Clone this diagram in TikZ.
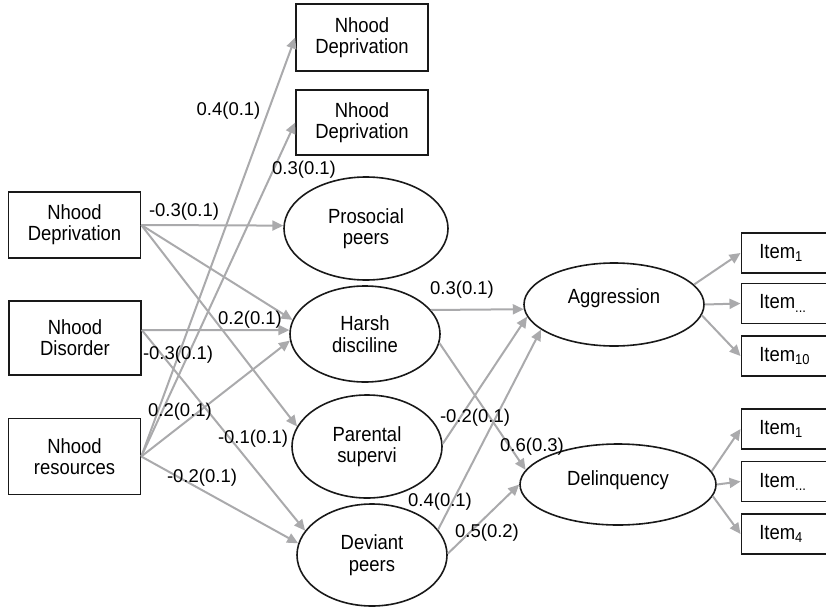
\documentclass[tikz,border=0pt]{standalone}
\usepackage{fontspec}
\setmainfont{Liberation Sans}
\newfontfamily\nodefont{Liberation Sans}[FakeStretch=0.9]
\usetikzlibrary{shapes.geometric,arrows.meta}
\definecolor{edgegray}{RGB}{170,170,172}
\definecolor{linedark}{RGB}{25,25,25}
\tikzset{
  box/.style={draw=linedark, line width=1.6pt, rectangle, inner sep=0pt, align=center,
    font=\nodefont\fontsize{20.5}{21}\selectfont},
  ell/.style={draw=linedark, line width=1.6pt, ellipse, inner sep=0pt, align=center,
    font=\nodefont\fontsize{20.5}{21.5}\selectfont},
  itembox/.style={draw=linedark, line width=1.6pt, rectangle, anchor=west, inner xsep=18pt,
    text width=80pt, align=left, minimum height=40pt, inner ysep=0pt,
    font=\nodefont\fontsize{20.5}{21}\selectfont},
  path/.style={draw=edgegray, line width=2pt, -{Triangle[length=11pt,width=10pt]}},
  coef/.style={font=\fontsize{18.5}{18.5}\selectfont, inner sep=0pt}
}
\begin{document}
\begin{tikzpicture}[x=1pt,y=-1pt]
\useasboundingbox (0,0) rectangle (826,607);
% observed boxes
\node[box, minimum width=132pt, minimum height=67pt] (t1) at (362,37.5) {Nhood\\Deprivation};
\node[box, minimum width=132pt, minimum height=65pt] (t2) at (362,122.5) {Nhood\\Deprivation};
\node[box, minimum width=132pt, minimum height=66pt] (dep) at (74.5,225) {Nhood\\Deprivation};
\node[box, minimum width=132pt, minimum height=74pt] (dis) at (75,338) {Nhood\\Disorder};
\node[box, minimum width=132pt, minimum height=76pt] (res) at (74.5,456.5) {Nhood\\resources};
% latent ellipses
\node[ell, minimum width=164pt, minimum height=103pt] (pro) at (366,228.5) {Prosocial\\peers};
\node[ell, minimum width=150pt, minimum height=96pt] (har) at (365,334) {Harsh\\disciline};
\node[ell, minimum width=150pt, minimum height=103pt] (par) at (367,446.5) {Parental\\supervi};
\node[ell, minimum width=150pt, minimum height=102pt] (dev) at (372,555) {Deviant\\peers};
\node[ell, minimum width=180pt, minimum height=83pt, text depth=16pt] (agg) at (614,304.5) {Aggression};
\node[ell, minimum width=196pt, minimum height=81pt, text depth=12pt] (del) at (618,484.5) {Delinquency};
% item boxes
\node[itembox] (a1) at (740.5,253) {Item\textsubscript{1}};
\node[itembox] (a2) at (740.5,303.5) {Item\textsubscript{...}};
\node[itembox] (a3) at (740.5,356) {Item\textsubscript{10}};
\node[itembox] (d1) at (740.5,429) {Item\textsubscript{1}};
\node[itembox] (d2) at (740.5,481.5) {Item\textsubscript{...}};
\node[itembox] (d3) at (740.5,534) {Item\textsubscript{4}};
% paths
\draw[path] (res.east) -- (t1.west);
\draw[path] (res.east) -- (t2.west);
\draw[path] (dep.east) -- (pro.178);
\draw[path] (dep.east) -- (har.169);
\draw[path] (dep.east) -- (par.164.5);
\draw[path] ([yshift=8pt]dis.east) -- (har.177);
\draw[path] ([yshift=8pt]dis.east) -- (dev.160);
\draw[path] (res.east) -- (har.185);
\draw[path] (res.east) -- (dev.171);
\draw[path] (har.20) -- (agg.183);
\draw[path] (har.353) -- (del.171.5);
\draw[path] (par.2) -- (agg.188.5);
\draw[path] (dev.21) -- (agg.199);
\draw[path] (dev.1.5) -- (del.180);
\draw[path] (agg.14) -- (a1.west);
\draw[path] (agg.0) -- (a2.west);
\draw[path] (agg.353.5) -- (a3.west);
\draw[path] (del.8.5) -- (d1.west);
\draw[path] (del.0) -- (d2.west);
\draw[path] (del.353.3) -- (d3.west);
% coefficients
\node[coef] (c1) at (228.5,111) {0.4(0.1)};
\node[coef] (c2) at (304,170) {0.3(0.1)};
\node[coef] (c3) at (184,212) {-0.3(0.1)};
\node[coef] (c4) at (250,320) {0.2(0.1)};
\node[coef] (c5) at (178,355) {-0.3(0.1)};
\node[coef] (c6) at (180,412) {0.2(0.1)};
\node[coef] (c7) at (253,439) {-0.1(0.1)};
\node[coef] (c8) at (202,478) {-0.2(0.1)};
\node[coef] (c9) at (462,290) {0.3(0.1)};
\node[coef] (c10) at (475,418) {-0.2(0.1)};
\node[coef] (c11) at (532,447) {0.6(0.3)};
\node[coef] (c12) at (440,502) {0.4(0.1)};
\node[coef] (c13) at (487,533) {0.5(0.2)};
\end{tikzpicture}
\end{document}
